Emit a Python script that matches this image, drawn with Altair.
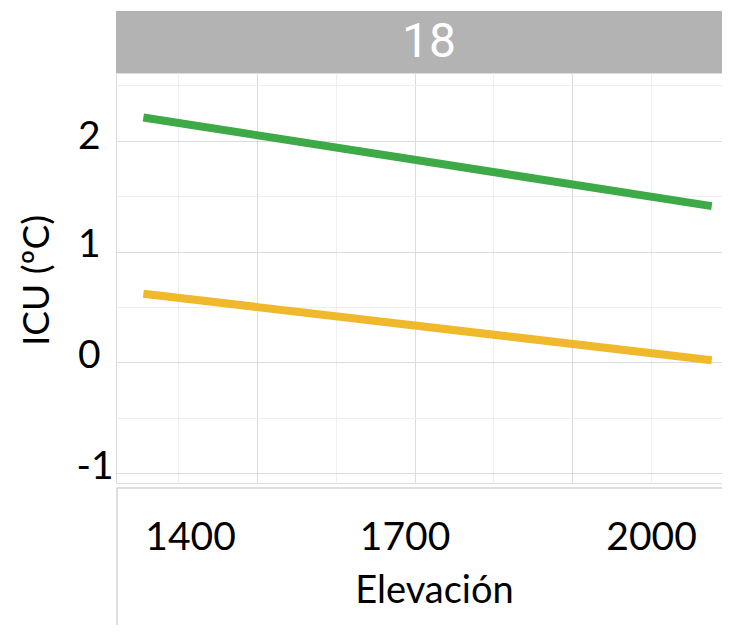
import altair as alt
import pandas as pd

# ---- data ----
series = ["serie_1", "serie_1", "serie_2", "serie_2"]
elevacion = [1356, 2077, 1356, 2077]
icu = [2.21, 1.41, 0.62, 0.02]
series_domain = ["serie_1", "serie_2"]
series_colors = ["#3DAA47", "#F0B92C"]
facet_label = "18"
x_ticks = [1400, 1700, 2000]
y_ticks = [-1, 0, 1, 2]

df = pd.DataFrame({"serie": series, "elev": elevacion, "icu": icu})

W, H = 606, 410
FONT = "Lato"

x_grid_vals = list(range(1400, 2100, 100))
y_grid_vals = [-1, -0.5, 0, 0.5, 1, 1.5, 2, 2.5]

x_enc = alt.X(
    "elev:Q",
    scale=alt.Scale(domain=[1321.3, 2090], nice=False, zero=False),
    axis=alt.Axis(
        title="Elevación",
        values=x_grid_vals,
        labelExpr="indexof(%s, datum.value) >= 0 ? toString(datum.value) : ''" % str(x_ticks),
        grid=True,
        gridColor={"condition": {"test": "datum.value % 200 == 100", "value": "#dcdcdc"}, "value": "#efefef"},
        gridWidth=1,
        ticks=False,
        tickSize=0,
        domain=False,
        labelFont=FONT,
        labelFontSize=39,
        labelColor="#000000",
        labelPadding=54,
        labelOffset={"condition": [
            {"test": "datum.value == 1400", "value": 12},
            {"test": "datum.value == 1700", "value": -10},
        ], "value": 0},
        labelBaseline="middle",
        labelFlush=False,
        labelOverlap=False,
        titleFont=FONT,
        titleFontSize=38,
        titleFontWeight="normal",
        titleColor="#000000",
        titleX=318,
        titleY=108,
        titleAlign="center",
        titleBaseline="middle",
    ),
)

y_enc = alt.Y(
    "icu:Q",
    scale=alt.Scale(domain=[-1.0875, 2.611], nice=False, zero=False),
    axis=alt.Axis(
        title="ICU (ºC)",
        values=y_grid_vals,
        labelExpr="datum.value % 1 == 0 ? toString(datum.value) : ''",
        grid=True,
        gridColor={"condition": {"test": "datum.value % 1 == 0", "value": "#dcdcdc"}, "value": "#efefef"},
        gridWidth=1,
        ticks=False,
        tickSize=0,
        domain=False,
        labelFont=FONT,
        labelFontSize=39,
        labelColor="#000000",
        labelPadding={"condition": {"test": "datum.value == -1", "value": 3}, "value": 16},
        labelOffset={"condition": {"test": "datum.value == 2", "value": -4}, "value": -7},
        labelBaseline="middle",
        labelFlush=False,
        labelOverlap=False,
        titleFont=FONT,
        titleFontSize=37,
        titleFontWeight="normal",
        titleColor="#000000",
        titleX=-79,
        titleY=207,
        titleAlign="center",
        titleBaseline="middle",
        titleAngle=270,
    ),
)

lines = alt.Chart(df).mark_line(strokeWidth=8, strokeCap="butt").encode(
    x=x_enc,
    y=y_enc,
    color=alt.Color("serie:N", scale=alt.Scale(domain=series_domain, range=series_colors), legend=None),
    detail="serie:N",
)

strip_df = pd.DataFrame({"label": [facet_label]})
strip = alt.Chart(strip_df).mark_rect(color="#b3b3b3", clip=False).encode(
    x=alt.value(0), x2=alt.value(W), y=alt.value(-62), y2=alt.value(0)
)
strip_text = alt.Chart(strip_df).mark_text(
    color="#ffffff", font="Roboto", fontSize=48, baseline="middle", align="center", clip=False
).encode(text="label:N", x=alt.value(313), y=alt.value(-30))

box = alt.Chart(strip_df).mark_rect(
    fill="#ffffff", fillOpacity=0, stroke="#d4d4d4", strokeWidth=1.5, clip=False
).encode(x=alt.value(1), x2=alt.value(W + 40), y=alt.value(H + 5), y2=alt.value(H + 300))

chart = (
    alt.layer(strip, strip_text, box, lines)
    .properties(
        width=W,
        height=H,
        autosize=alt.AutoSizeParams(type="none"),
        padding={"left": 108, "top": 65, "right": 0, "bottom": 142},
    )
    .configure_view(stroke="#cfcfcf", strokeWidth=1.5)
    .configure(background="#ffffff")
)

chart.save("out.html", embed_options={"renderer": "svg", "actions": False})
